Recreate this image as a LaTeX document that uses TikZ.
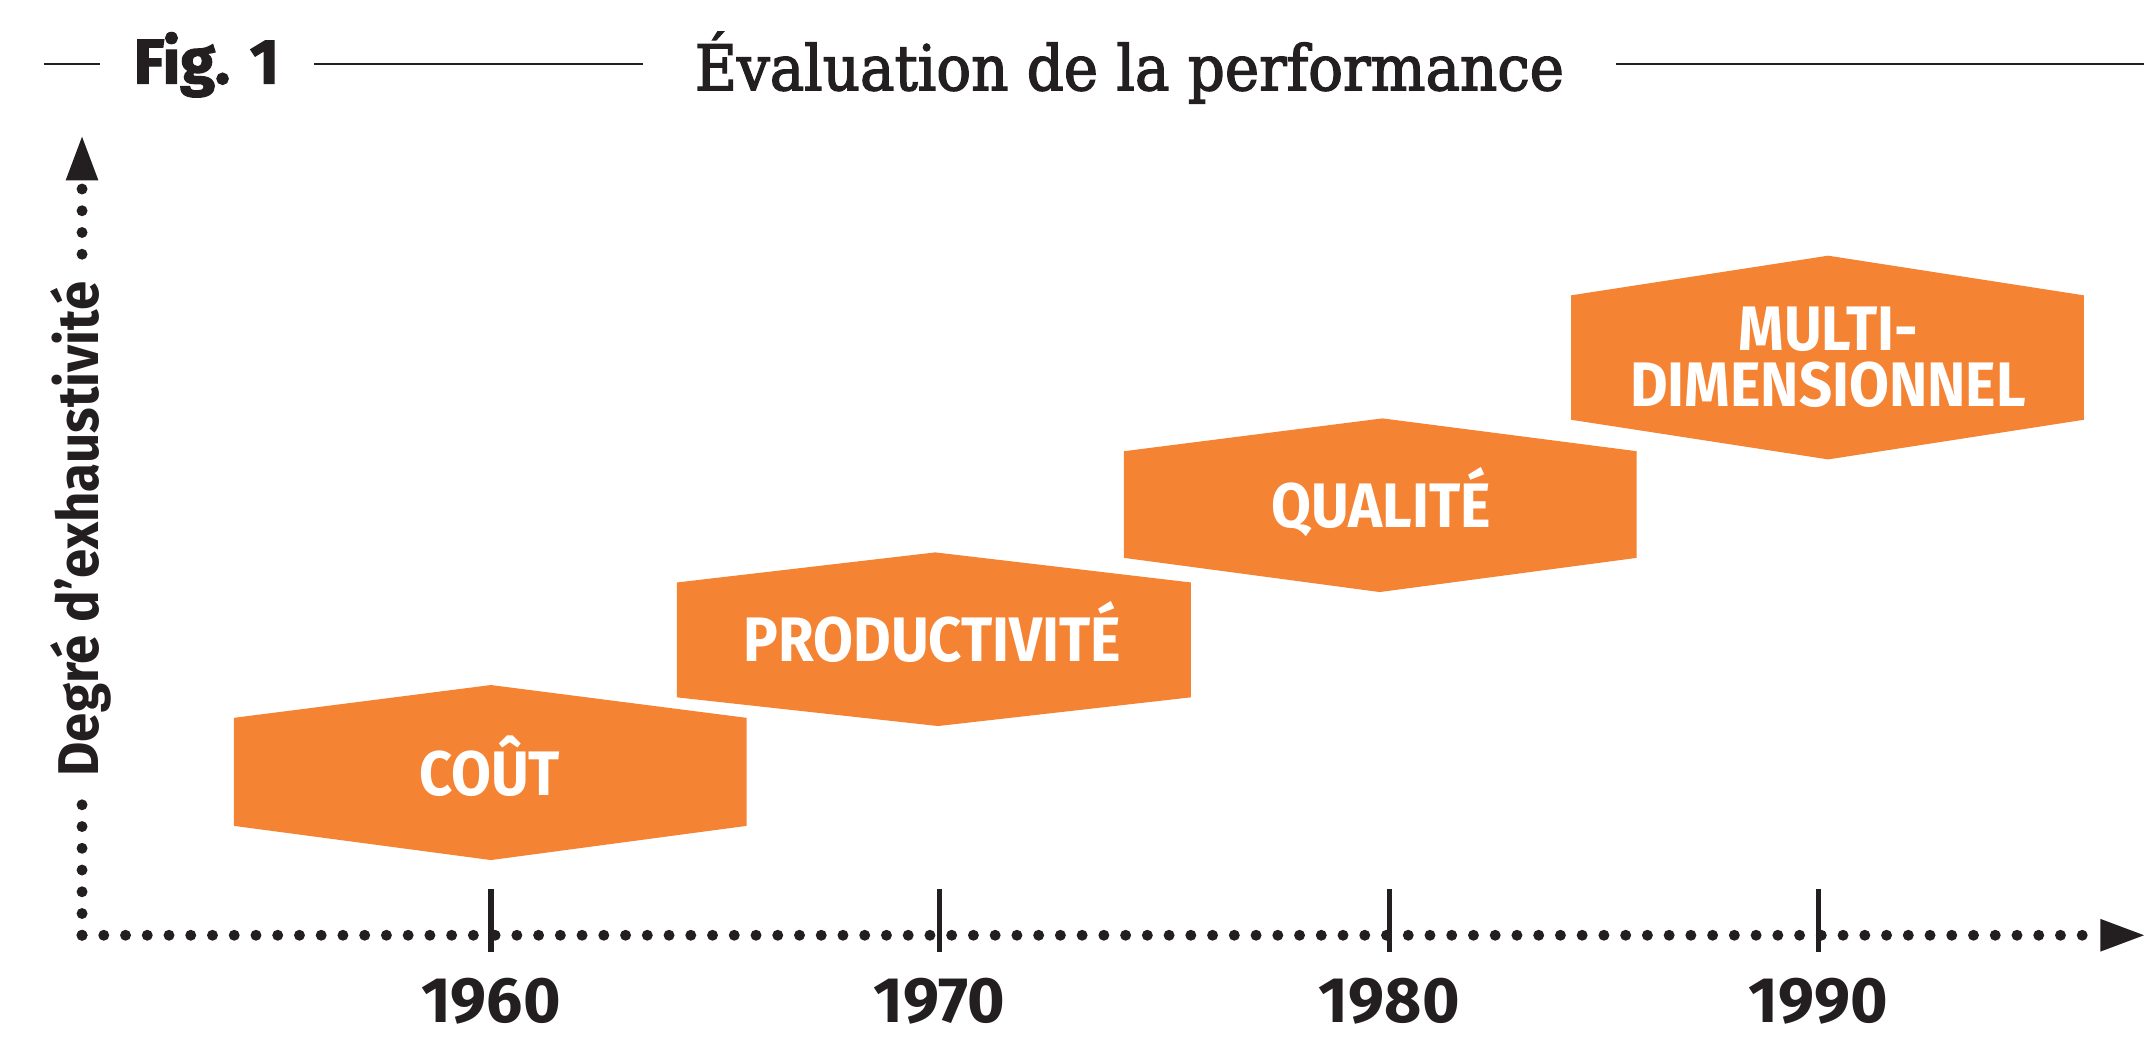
\documentclass[tikz,border=0pt]{standalone}
\usepackage{fontspec}
\usepackage{tikz}
\usetikzlibrary{arrows.meta}
\setmainfont{DejaVu Serif}
\setsansfont{Fira Sans}[FakeStretch=0.92]
\newfontfamily\figfont{Fira Sans}[BoldFeatures={FakeBold=2}]
\newfontfamily\yearfont{Fira Sans}
\newfontfamily\titlefont{DejaVu Serif}[FakeStretch=0.92, FakeBold=2.2]
\definecolor{ink}{HTML}{231F20}
\definecolor{hexorange}{HTML}{F48334}

\begin{document}
\begin{tikzpicture}[x=1pt, y=1pt,
    axisdots/.style={line width=8pt, line cap=round, dash pattern=on 0pt off 15.9pt, ink},
    rule/.style={line width=1.6pt, ink},
    yeartick/.style={line width=4pt, ink},
    hexfill/.style={fill=hexorange},
    hextext/.style={text=white, align=center, font=\sffamily\bfseries\fontsize{46}{41}\selectfont},
    yeartext/.style={text=ink, font=\yearfont\bfseries\fontsize{47}{50}\selectfont}]
    \useasboundingbox (0,0) rectangle (1568,762);
    % Header
    \draw[rule] (32,715) -- (73,715);
    \node[anchor=base, text=ink, font=\figfont\bfseries\fontsize{46}{48}\selectfont] (fig) at (151,701) {Fig. 1};
    \draw[rule] (230,715) -- (470,715);
    \node[anchor=base, text=ink, font=\titlefont\fontsize{46}{50}\selectfont] (title) at (826,696) {Évaluation de la performance};
    \draw[rule] (1182,715) -- (1568,715);
    % Axes
    \coordinate (origin) at (60,78);
    \coordinate (xtip) at (1568,78);
    \coordinate (ytip) at (60,662);
    \node[rotate=90, anchor=base, inner xsep=20pt, inner ysep=0pt, text=ink,
        font=\sffamily\bfseries\fontsize{42}{46}\selectfont] (ylabel) at (72,375) {Degré d’exhaustivité};
    \draw[axisdots] (origin) -- (origin |- ylabel.west);
    \draw[axisdots, -{Triangle[length=32pt, width=24pt, line width=0pt]}] (origin |- ylabel.east) -- (ytip);
    \draw[axisdots, -{Triangle[length=32pt, width=24pt, line width=0pt]}] (origin) -- (xtip);
    % Years
    \foreach \x/\yr in {359/1960, 687/1970, 1016/1980, 1330/1990} {
        \draw[yeartick] (\x,112) -- (\x,66);
        \node[yeartext, anchor=base] (y\yr) at (\x,14) {\yr};
    }
    % Cost
    \fill[hexfill] (171,158) -- (171,237) -- (359,261) -- (546,237) -- (546,158) -- (359,133) -- cycle;
    \node[hextext, anchor=base] (cout) at (358,180) {COÛT};
    % Productivity
    \fill[hexfill] (495,252) -- (495,336) -- (684,358) -- (871,336) -- (871,252) -- (686,231) -- cycle;
    \node[hextext, anchor=base] (productivite) at (682,278) {PRODUCTIVITÉ};
    % Quality
    \fill[hexfill] (822,354) -- (822,432) -- (1011,456) -- (1197,432) -- (1197,354) -- (1009,329) -- cycle;
    \node[hextext, anchor=base] (qualite) at (1010,376) {QUALITÉ};
    % Multi-dimensional
    \fill[hexfill] (1149,455) -- (1149,546) -- (1337,575) -- (1524,546) -- (1524,455) -- (1337,426) -- cycle;
    \node[hextext] (multi) at (1337,500.5) {MULTI-\\DIMENSIONNEL};
\end{tikzpicture}
\end{document}
